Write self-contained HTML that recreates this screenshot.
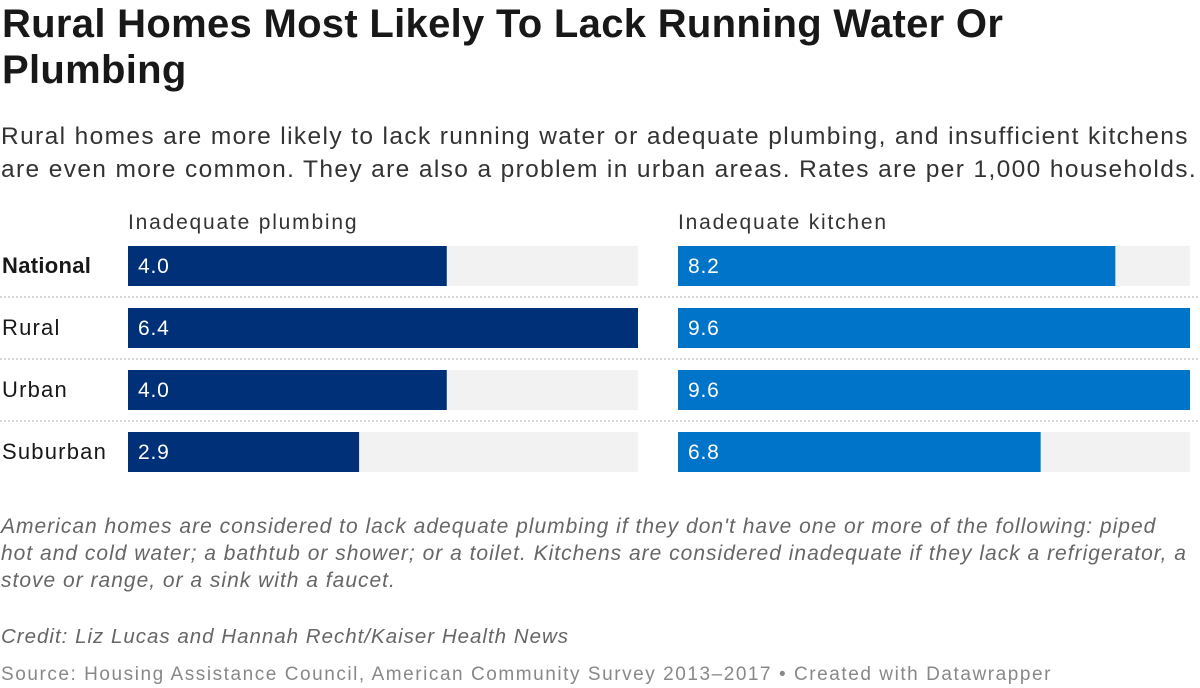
<!DOCTYPE html>
<html><head><meta charset="utf-8"><style>
body{margin:0;width:1200px;height:688px;background:#fff;font-family:"Liberation Sans",sans-serif;color:#181818;position:relative;overflow:hidden}
.abs{position:absolute;white-space:nowrap}
h1{position:absolute;left:2px;top:1px;margin:0;font-size:40px;line-height:46px;font-weight:bold;letter-spacing:0.3px;white-space:nowrap}
.sub{left:1px;top:120px;font-size:24.5px;line-height:33px;color:#333;letter-spacing:1.37px}
.note{left:1px;top:513px;font-size:21px;line-height:27px;color:#666;font-style:italic;letter-spacing:1.0px}
</style></head><body>
<h1>Rural Homes Most Likely To Lack Running Water Or<br>Plumbing</h1>
<div class="abs sub">Rural homes are more likely to lack running water or adequate plumbing, and insufficient kitchens<br>are even more common. They are also a problem in urban areas. Rates are per 1,000 households.</div>
<svg class="abs" style="left:0;top:200px" width="1200" height="290" id="chart"></svg>
<div class="abs note">American homes are considered to lack adequate plumbing if they don't have one or more of the following: piped<br>hot and cold water; a bathtub or shower; or a toilet. Kitchens are considered inadequate if they lack a refrigerator, a<br>stove or range, or a sink with a faucet.</div>
<div class="abs" style="left:1px;top:625px;font-size:20.5px;color:#666;font-style:italic;letter-spacing:1px">Credit: Liz Lucas and Hannah Recht/Kaiser Health News</div>
<div class="abs" style="left:1px;top:664px;font-size:19px;color:#888;letter-spacing:1.55px">Source: Housing Assistance Council, American Community Survey 2013–2017 • Created with Datawrapper</div>
<script>
const categories=["National","Rural","Urban","Suburban"];
const plumbing=[4.0,6.4,4.0,2.9];
const kitchen=[8.2,9.6,9.6,6.8];
const seriesNames=["Inadequate plumbing","Inadequate kitchen"];
const NS="http://www.w3.org/2000/svg";
const svg=document.getElementById('chart');
function mk(t,a){const e=document.createElementNS(NS,t);for(const k in a)e.setAttribute(k,a[k]);svg.appendChild(e);return e;}
const cols=[{x0:128,w:510,max:6.4,data:plumbing,color:"#003078"},{x0:678,w:512,max:9.6,data:kitchen,color:"#0074c8"}];
const rowY=i=>46+i*62;
cols.forEach((c,ci)=>{
  const h=mk('text',{x:c.x0,y:29,'font-size':21,fill:'#333','letter-spacing':1.8});h.textContent=seriesNames[ci];
  
  
  c.data.forEach((v,i)=>{
    const bg=mk('rect',{x:c.x0,y:rowY(i),width:c.w,height:40,fill:'#f2f2f2'});
    
    
    const r=mk('rect',{x:c.x0,y:rowY(i),width:c.w*v/c.max,height:40,fill:c.color});
    
    
    const t=mk('text',{x:c.x0+10,y:rowY(i)+27,'font-size':21,fill:'#fff','letter-spacing':0.8});t.textContent=v.toFixed(1);
    
    
  });
});
categories.forEach((c,i)=>{
  const t=mk('text',{x:2,y:rowY(i)+27,'font-size':22,fill:'#181818','font-weight':i===0?'bold':'normal','letter-spacing':i===0?0.3:1.2});t.textContent=c;
  
  
  if(i<categories.length-1){
    const l=mk('line',{x1:0,x2:1200,y1:rowY(i)+51,y2:rowY(i)+51,stroke:'#ccc','stroke-width':1.5,'stroke-dasharray':'2,2'});
    
    
  }
});
</script>
</body></html>
